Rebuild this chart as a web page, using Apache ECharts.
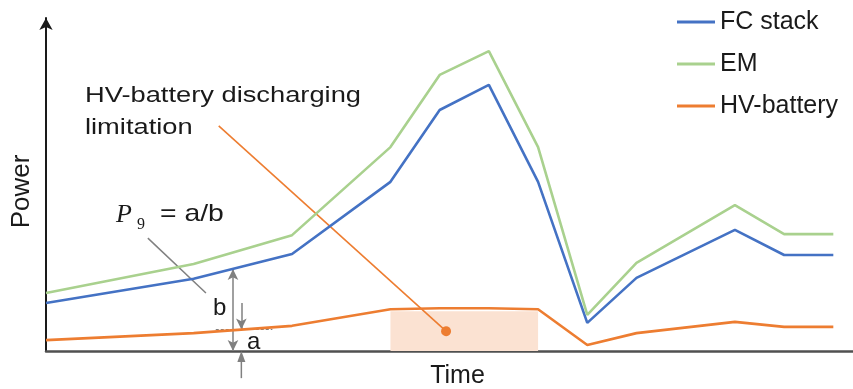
<!DOCTYPE html>
<html>
<head>
<meta charset="utf-8">
<script src="https://cdn.jsdelivr.net/npm/echarts@6/dist/echarts.min.js"></script>
<style>
  html, body { margin: 0; padding: 0; background: #ffffff; }
  #chart { width: 853px; height: 389px; }
</style>
</head>
<body>
<div id="chart"></div>
<script>
// Time steps of the drive segment and the power of each component (arbitrary units)
const timePoints = [0, 3, 5, 7, 8, 9, 10, 11, 12, 14, 15, 16];
const fcStack    = [14.5, 21.8, 29.3, 51.1, 72.8, 80.4, 51.1, 8.5, 22.1, 36.6, 29.0, 29.0];
const emPower    = [17.5, 26.3, 35.0, 61.6, 83.4, 90.6, 61.6, 10.9, 26.6, 44.1, 35.3, 35.3];
const hvBattery  = [3.3, 5.4, 7.6, 12.6, 12.9, 12.9, 12.6, 1.8, 5.4, 8.8, 7.3, 7.3];
const seriesNames = ['FC stack', 'EM', 'HV-battery'];

// Window where the battery output is capped
const limitWindow = [7, 10];
const limitLevel = 12.0;

// Where the ratio a/b is measured
const ratioTime = 3.97;      // a-arrow position
const bArrowTime = 3.80;     // b-arrow position

const BLUE = '#4472c4', GREEN = '#a9d18e', ORANGE = '#ed7d31', GRAY = '#808080';
const FONT = '"Liberation Sans", Arial, sans-serif';
const SERIF = '"Liberation Serif", "Times New Roman", serif';

function pairs(ys) { return timePoints.map((t, i) => [t, ys[i]]); }
function interp(ys, t) {
  for (let i = 0; i < timePoints.length - 1; i++) {
    const t0 = timePoints[i], t1 = timePoints[i + 1];
    if (t >= t0 && t <= t1) return ys[i] + (ys[i + 1] - ys[i]) * (t - t0) / (t1 - t0);
  }
  return ys[ys.length - 1];
}

const bTop = interp(fcStack, bArrowTime);
const aLevel = interp(hvBattery, ratioTime);

const chart = echarts.init(document.getElementById('chart'), null, { renderer: 'canvas' });

const lineSeries = (name, data, color) => ({
  name, type: 'line', data: pairs(data), symbol: 'none', z: 5,
  lineStyle: { color, width: 2.6 }, itemStyle: { color },
  emphasis: { disabled: true }, animation: false
});

const battery = lineSeries(seriesNames[2], hvBattery, ORANGE);
battery.markArea = {
  silent: true,
  itemStyle: { color: '#fbe2d2' },
  data: [[{ coord: [limitWindow[0], 0] }, { coord: [limitWindow[1], limitLevel] }]]
};

const mlBase = { silent: true, animation: false, label: { show: false }, emphasis: { disabled: true } };

// Arrow that points up from below the time axis to the zero line
function renderBelowAxisArrow(params, api) {
  const p0 = api.coord([api.value(0), api.value(1)]);
  const p1 = api.coord([api.value(0), api.value(2)]);
  const head = 11, half = 4;
  return {
    type: 'group',
    children: [
      { type: 'line', shape: { x1: p0[0], y1: p0[1], x2: p1[0], y2: p1[1] + head },
        style: { stroke: GRAY, lineWidth: 1.5 } },
      { type: 'polygon',
        shape: { points: [[p1[0], p1[1]], [p1[0] - half, p1[1] + head], [p1[0] + half, p1[1] + head]] },
        style: { fill: GRAY } }
    ]
  };
}

const option = {
  animation: false,
  grid: { left: 46, right: 0, top: 18, bottom: 38, outerBoundsMode: 'none', containLabel: false },
  legend: {
    data: seriesNames,
    orient: 'vertical',
    left: 672, top: 4,
    icon: 'rect',
    itemWidth: 38, itemHeight: 3, itemGap: 16,
    textStyle: { fontFamily: FONT, fontSize: 25, color: '#1a1a1a', lineHeight: 26 }
  },
  xAxis: {
    type: 'value', min: 0, max: 16.4,
    name: 'Time', nameLocation: 'middle', nameGap: 13,
    nameTextStyle: { fontFamily: FONT, fontSize: 25, color: '#1a1a1a', padding: [0, 0, 0, 16] },
    axisLine: { lineStyle: { color: '#505050', width: 2.5 } },
    axisTick: { show: false }, axisLabel: { show: false }, splitLine: { show: false }
  },
  yAxis: {
    type: 'value', min: 0, max: 100.6,
    name: 'Power', nameLocation: 'middle', nameGap: 11, nameRotate: 90,
    nameTextStyle: { fontFamily: FONT, fontSize: 26, color: '#1a1a1a', padding: [0, 14, 0, 0] },
    axisLine: { show: true, symbol: ['none', 'arrow'], symbolSize: [10, 12], lineStyle: { color: '#1a1a1a', width: 2 } },
    axisTick: { show: false }, axisLabel: { show: false }, splitLine: { show: false }
  },
  series: [
    lineSeries(seriesNames[0], fcStack, BLUE),
    lineSeries(seriesNames[1], emPower, GREEN),
    battery,
    {
      // annotation leaders and the a/b measuring arrows
      name: 'notes', type: 'line', data: [], clip: false, z: 6,
      markLine: Object.assign({}, mlBase, {
        data: [
          [ { coord: [3.51, 68.0], symbol: 'none', lineStyle: { color: ORANGE, width: 1.6, type: 'solid' } },
            { coord: [8.13, 6.0], symbol: 'circle', symbolSize: 10 } ],
          [ { coord: [2.07, 34.1], symbol: 'none', lineStyle: { color: GRAY, width: 1.5, type: 'solid' } },
            { coord: [3.25, 17.5], symbol: 'none' } ],
          [ { coord: [bArrowTime, 0], symbol: 'arrow', symbolSize: [8, 11], lineStyle: { color: GRAY, width: 1.5, type: 'solid' } },
            { coord: [bArrowTime, bTop], symbol: 'arrow', symbolSize: [8, 11] } ],
          [ { coord: [ratioTime, 14.5], symbol: 'none', lineStyle: { color: GRAY, width: 1.5, type: 'solid' } },
            { coord: [ratioTime, aLevel], symbol: 'arrow', symbolSize: [8, 11] } ],
          [ { coord: [3.45, aLevel], symbol: 'none', lineStyle: { color: GRAY, width: 1.2, type: [3, 2] } },
            { coord: [4.60, aLevel], symbol: 'none' } ]
        ]
      })
    },
    {
      name: 'below-axis arrow', type: 'custom', clip: false, silent: true, z: 6,
      renderItem: renderBelowAxisArrow,
      data: [[ratioTime, -8.2, 0]]
    }
  ],
  graphic: [
    { type: 'text', x: 85, y: 96, scaleX: 1.24, z: 10,
      style: { text: 'HV-battery discharging', font: '22px ' + FONT, fill: '#1a1a1a', verticalAlign: 'middle' } },
    { type: 'text', x: 85, y: 128, scaleX: 1.24, z: 10,
      style: { text: 'limitation', font: '22px ' + FONT, fill: '#1a1a1a', verticalAlign: 'middle' } },
    { type: 'text', x: 116, y: 215, z: 10,
      style: { text: 'P', font: 'italic 26px ' + SERIF, fill: '#1a1a1a', verticalAlign: 'middle' } },
    { type: 'text', x: 137, y: 225, z: 10,
      style: { text: '9', font: '16px ' + SERIF, fill: '#1a1a1a', verticalAlign: 'middle' } },
    { type: 'text', x: 160, y: 214, scaleX: 1.18, z: 10,
      style: { text: '= a/b', font: '24px ' + FONT, fill: '#1a1a1a', verticalAlign: 'middle' } },
    { type: 'text', x: 213, y: 308, z: 10,
      style: { text: 'b', font: '24px ' + FONT, fill: '#1a1a1a', verticalAlign: 'middle' } },
    { type: 'text', x: 247, y: 342, z: 10,
      style: { text: 'a', font: '24px ' + FONT, fill: '#1a1a1a', verticalAlign: 'middle' } }
  ]
};

chart.setOption(option);
</script>
</body>
</html>
